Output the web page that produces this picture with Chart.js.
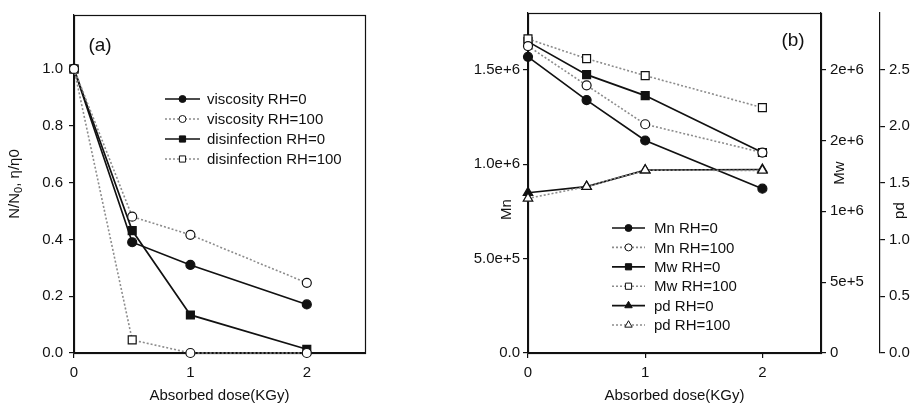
<!DOCTYPE html>
<html>
<head>
<meta charset="utf-8">
<script src="https://cdn.jsdelivr.net/npm/chart.js@4.4.1/dist/chart.umd.min.js"></script>
<style>
  html, body { margin: 0; padding: 0; background: #fff; }
  #wrap { position: relative; width: 917px; height: 409px; }
  canvas { position: absolute; top: 0; }
  #chartA { left: 0; }
  #chartB { left: 457px; }
</style>
</head>
<body>
<div id="wrap">
  <canvas id="chartA" width="457" height="409"></canvas>
  <canvas id="chartB" width="460" height="409"></canvas>
</div>
<script>
// absorbed dose (kGy), shared by both panels
const doses = [0, 0.5, 1, 2]
const doseTicks = [0, 1, 2]
const doseLabels = ["0", "1", "2"]

// panel (a): N/N0 and relative viscosity
const viscRH0 = [1.0, 0.39, 0.31, 0.171]
const viscRH100 = [1.0, 0.48, 0.416, 0.247]
const disRH0 = [1.0, 0.431, 0.134, 0.013]
const disRH100 = [1.0, 0.046, 0, 0]
const aTicks = [0, 0.2, 0.4, 0.6, 0.8, 1.0]
const aLabels = ["0.0", "0.2", "0.4", "0.6", "0.8", "1.0"]

// panel (b): molecular weights and polydispersity
const mnRH0 = [1.568e6, 1.339e6, 1.125e6, 0.87e6]
const mnRH100 = [1.625e6, 1.417e6, 1.211e6, 1.061e6]
const mwRH0 = [2.198e6, 1.965e6, 1.817e6, 1.415e6]
const mwRH100 = [2.217e6, 2.078e6, 1.958e6, 1.732e6]
const pdRH0 = [1.414, 1.468, 1.613, 1.619]
const pdRH100 = [1.364, 1.468, 1.613, 1.611]
const mnTicks = [0, 5e5, 1e6, 1.5e6]
const mnLabels = ["0.0", "5.0e+5", "1.0e+6", "1.5e+6"]
const mwTicks = [0, 5e5, 1e6, 1.5e6, 2e6]
const mwLabels = ["0", "5e+5", "1e+6", "2e+6", "2e+6"]
const pdTicks = [0, 0.5, 1, 1.5, 2, 2.5]
const pdLabels = ["0.0", "0.5", "1.0", "1.5", "2.0", "2.5"]

const FONT = "'Liberation Sans', Arial, sans-serif"
const RADIUS = { circle: 4.5, rect: 5.6, triangle: 5.5 }

function pts(ys) {
  return doses.map((d, i) => ({ x: d, y: ys[i] }))
}

function series(label, ys, style, filled, axis) {
  const r = Array.isArray(style) ? style.map((s) => RADIUS[s]) : RADIUS[style]
  return {
    label: label,
    data: pts(ys),
    yAxisID: axis,
    borderColor: filled ? "#111" : "#8c8c8c",
    borderWidth: filled ? 1.7 : 1.6,
    borderDash: filled ? [] : [2, 2],
    pointStyle: style,
    pointRadius: r,
    pointBackgroundColor: filled ? "#111" : "#fff",
    pointBorderColor: "#111",
    pointBorderWidth: 1.2,
    tension: 0,
    clip: false,
    order: filled ? 1 : 0,
  }
}

function fixedTicks(values, labels, size) {
  return {
    afterBuildTicks: (s) => {
      s.ticks = values.map((v) => ({ value: v }))
    },
    ticks: {
      autoSkip: false,
      color: "#111",
      font: { family: FONT, size: size },
      callback: (v, i) => labels[i],
    },
  }
}

function axisBase(extra) {
  return Object.assign(
    {
      type: "linear",
      border: { display: true, color: "#111", width: 1.2 },
      grid: { display: true, drawOnChartArea: false, drawTicks: true, tickLength: 5, color: "#111", lineWidth: 1.2 },
    },
    extra
  )
}

function doseAxis() {
  const a = axisBase(fixedTicks(doseTicks, doseLabels, 15))
  a.min = 0
  a.max = 2.5
  a.ticks.padding = 6
  a.title = {
    display: true,
    text: "Absorbed dose(KGy)",
    color: "#111",
    font: { family: FONT, size: 15 },
    padding: { top: 0, bottom: 4 },
  }
  a.afterFit = (s) => {
    s.height = 56
  }
  return a
}

const framePlugin = {
  id: "frame",
  beforeDatasetsDraw(chart) {
    const { ctx, chartArea: a } = chart
    ctx.save()
    ctx.strokeStyle = "#111"
    ctx.lineWidth = 1.2
    ctx.strokeRect(Math.round(a.left) + 0.5, Math.round(a.top) + 0.5, Math.round(a.right - a.left), Math.round(a.bottom - a.top))
    ctx.restore()
  },
}

function drawMarker(ctx, style, x, y, r, fill) {
  ctx.beginPath()
  if (style === "circle") {
    ctx.arc(x, y, r, 0, Math.PI * 2)
  } else if (style === "rect") {
    const h = r * Math.SQRT1_2
    ctx.rect(x - h, y - h, 2 * h, 2 * h)
  } else {
    ctx.moveTo(x, y - r)
    ctx.lineTo(x + r * 0.866, y + r * 0.5)
    ctx.lineTo(x - r * 0.866, y + r * 0.5)
    ctx.closePath()
  }
  ctx.fillStyle = fill
  ctx.fill()
  ctx.strokeStyle = "#111"
  ctx.lineWidth = 1
  ctx.stroke()
}

// legend drawn inside the plot: short line with its marker, then the label
function makeLegend(cfg) {
  return {
    id: "innerLegend",
    afterDatasetsDraw(chart) {
      const { ctx, chartArea: a } = chart
      ctx.save()
      ctx.font = "15px " + FONT
      ctx.textBaseline = "middle"
      chart.data.datasets.forEach((ds, i) => {
        const x0 = a.left + cfg.dx
        const y = a.top + cfg.dy + i * cfg.row
        ctx.setLineDash(ds.borderDash)
        ctx.strokeStyle = ds.borderColor
        ctx.lineWidth = ds.borderWidth
        ctx.beginPath()
        ctx.moveTo(x0, y)
        ctx.lineTo(x0 + cfg.len, y)
        ctx.stroke()
        ctx.setLineDash([])
        const style = Array.isArray(ds.pointStyle) ? ds.pointStyle[0] : ds.pointStyle
        drawMarker(ctx, style, x0 + cfg.len / 2, y, RADIUS[style] * 0.78, ds.pointBackgroundColor)
        ctx.fillStyle = "#111"
        ctx.fillText(ds.label, x0 + cfg.len + cfg.gap, y + 1)
      })
      ctx.restore()
    },
  }
}

// free text: panel letters and axis titles placed like the original
// a text may be split in parts, parts marked sub are drawn smaller and lower
function makeNotes(items) {
  return {
    id: "notes",
    afterDraw(chart) {
      const { ctx, chartArea: a } = chart
      ctx.save()
      ctx.fillStyle = "#111"
      ctx.textAlign = "left"
      ctx.textBaseline = "middle"
      items.forEach((n) => {
        const base = n.scale ? chart.scales[n.scale].left : n.from === "right" ? a.right : a.left
        const x = base + n.dx
        const y = a.top + n.fy * (a.bottom - a.top)
        const parts = n.parts || [{ t: n.text }]
        const fontOf = (p) => (p.sub ? Math.round(n.size * 0.7) : n.size) + "px " + FONT
        let total = 0
        parts.forEach((p) => {
          ctx.font = fontOf(p)
          total += ctx.measureText(p.t).width
        })
        ctx.save()
        ctx.translate(x, y)
        if (n.rotate) ctx.rotate(-Math.PI / 2)
        let cx = -total / 2
        parts.forEach((p) => {
          ctx.font = fontOf(p)
          ctx.fillText(p.t, cx, p.sub ? n.size * 0.25 : 0)
          cx += ctx.measureText(p.t).width
        })
        ctx.restore()
      })
      ctx.restore()
    },
  }
}

const common = {
  responsive: false,
  animation: false,
  events: [],
  plugins: { legend: { display: false }, tooltip: { enabled: false } },
}

const yA = axisBase(fixedTicks(aTicks, aLabels, 15))
yA.min = 0
yA.max = 1.19
yA.ticks.padding = 6
yA.afterFit = (s) => {
  s.width = 74
}

new Chart(document.getElementById("chartA"), {
  type: "line",
  data: {
    datasets: [
      series("viscosity RH=0", viscRH0, "circle", true, "y"),
      series("viscosity RH=100", viscRH100, "circle", false, "y"),
      series("disinfection RH=0", disRH0, "rect", true, "y"),
      series("disinfection RH=100", disRH100, ["rect", "rect", "circle", "circle"], false, "y"),
    ],
  },
  options: Object.assign({}, common, {
    layout: { padding: { left: 0, right: 92, top: 7, bottom: 0 } },
    scales: { x: doseAxis(), y: yA },
  }),
  plugins: [
    framePlugin,
    makeLegend({ dx: 91, dy: 84, row: 20, len: 35, gap: 7 }),
    makeNotes([
      { text: "(a)", size: 19, dx: 26, fy: 0.09 },
      {
        parts: [{ t: "N/N" }, { t: "0", sub: true }, { t: ", \u03b7/\u03b70" }],
        size: 15,
        dx: -59,
        fy: 0.5,
        rotate: true,
      },
    ]),
  ],
})

const yMn = axisBase(fixedTicks(mnTicks, mnLabels, 15))
yMn.position = "left"
yMn.min = 0
yMn.max = 1.8e6
yMn.ticks.padding = 3
yMn.afterFit = (s) => {
  s.width = 71
}

const yMw = axisBase(fixedTicks(mwTicks, mwLabels, 15))
yMw.position = "right"
yMw.weight = 0
yMw.min = 0
yMw.max = 2.4e6
yMw.ticks.padding = 4
yMw.afterFit = (s) => {
  s.width = 59
}

const yPd = axisBase(fixedTicks(pdTicks, pdLabels, 15))
yPd.position = "right"
yPd.weight = 1
yPd.min = 0
yPd.max = 3
yPd.ticks.padding = 4
yPd.afterFit = (s) => {
  s.width = 37
}

new Chart(document.getElementById("chartB"), {
  type: "line",
  data: {
    datasets: [
      series("Mn RH=0", mnRH0, "circle", true, "mn"),
      series("Mn RH=100", mnRH100, "circle", false, "mn"),
      series("Mw RH=0", mwRH0, "rect", true, "mw"),
      series("Mw RH=100", mwRH100, "rect", false, "mw"),
      series("pd RH=0", pdRH0, "triangle", true, "pd"),
      series("pd RH=100", pdRH100, "triangle", false, "pd"),
    ],
  },
  options: Object.assign({}, common, {
    layout: { padding: { left: 0, right: 0, top: 7, bottom: 0 } },
    scales: { x: doseAxis(), mn: yMn, mw: yMw, pd: yPd },
  }),
  plugins: [
    framePlugin,
    makeLegend({ dx: 84, dy: 215, row: 19.4, len: 33, gap: 9 }),
    makeNotes([
      { text: "(b)", size: 19, dx: 265, fy: 0.082 },
      { text: "Mn", size: 15, dx: -21, fy: 0.578, rotate: true },
      { text: "Mw", size: 15, from: "right", dx: 19, fy: 0.471, rotate: true },
      { text: "pd", size: 15, scale: "pd", dx: 20, fy: 0.581, rotate: true },
    ]),
  ],
})
</script>
</body>
</html>
